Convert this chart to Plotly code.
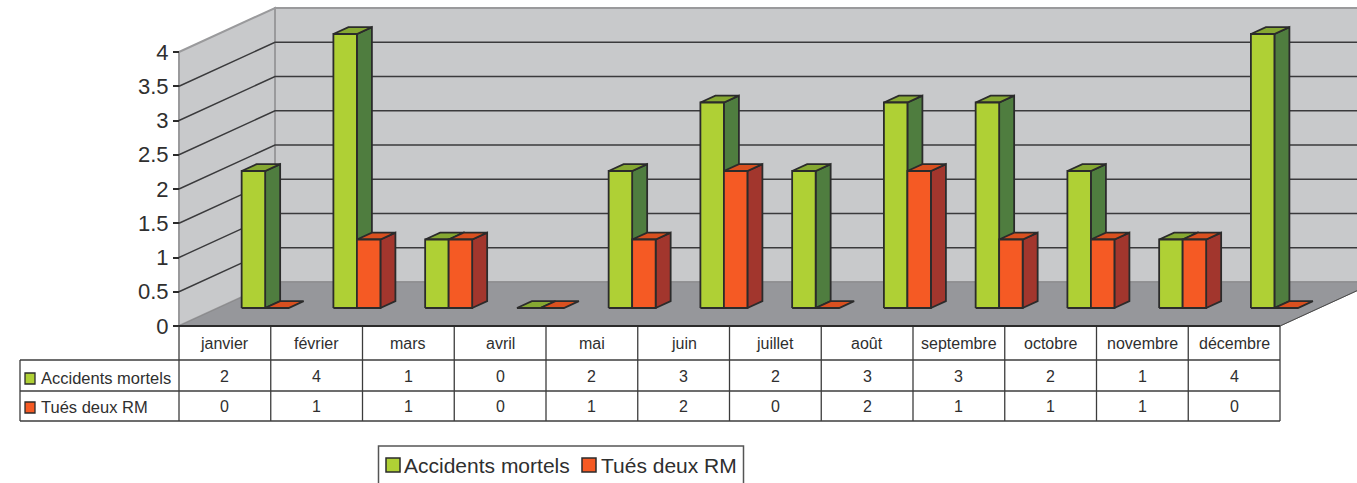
import plotly.graph_objects as go

months = ["janvier", "février", "mars", "avril", "mai", "juin", "juillet", "août",
          "septembre", "octobre", "novembre", "décembre"]
series_names = ["Accidents mortels", "Tués deux RM"]
accidents = [2, 4, 1, 0, 2, 3, 2, 3, 3, 2, 1, 4]
tues = [0, 1, 1, 0, 1, 2, 0, 2, 1, 1, 1, 0]
y_ticks = [0, 0.5, 1, 1.5, 2, 2.5, 3, 3.5, 4]
y_tick_labels = ["0", "0.5", "1", "1.5", "2", "2.5", "3", "3.5", "4"]

W, H = 1357, 483
X0, Y0 = 179, 326
UX = (1280 - 179) / 12
UY = (326 - 52) / 4
DX = 96 / UX
DY = 44 / UY
INK = "#2b2b2b"
TXT = "#2f2f2f"
FONT = "Liberation Sans, Arial, sans-serif"


def proj(x, v, d):
    return x + d * DX, v + d * DY


def py(px):
    return 1 - px / H


def poly_trace(polys, fill, line, width=1.8):
    xs, ys = [], []
    for p in polys:
        pts = [proj(*q) for q in p]
        pts.append(pts[0])
        xs += [a for a, _ in pts] + [None]
        ys += [b for _, b in pts] + [None]
    return go.Scatter(x=xs, y=ys, mode="lines", fill="toself", fillcolor=fill,
                      line=dict(color=line, width=width), hoverinfo="skip", showlegend=False)


fig = go.Figure()
n = len(months)
top = max(y_ticks)
wall = "#c8c9cb"
fig.add_trace(poly_trace([[(0, 0, 0), (0, 0, 1), (0, top, 1), (0, top, 0)]], wall, "#9a9a9c", 2))
fig.add_trace(poly_trace([[(0, 0, 1), (n, 0, 1), (n, top, 1), (0, top, 1)]], wall, "#9a9a9c", 2))
fig.add_trace(poly_trace([[(0, 0, 0), (n, 0, 0), (n, 0, 1), (0, 0, 1)]], "#96979b", "#8a8a8c", 1))

gx, gy = [], []
for t in y_ticks[1:-1]:
    pts = [proj(0, t, 0), proj(0, t, 1), proj(n, t, 1)]
    gx += [a for a, _ in pts] + [None]
    gy += [b for _, b in pts] + [None]
fig.add_trace(go.Scatter(x=gx, y=gy, mode="lines", line=dict(color="#3a3a3c", width=1.4),
                         hoverinfo="skip", showlegend=False))

BAR_W = 23.5 / UX
BAR_SHIFT = 1 / UX
D0 = 18 / 44
D1 = D0 + 15 / 96
palette = [("#afd035", "#4f7d3f", "#86a832"), ("#f55a24", "#a2362d", "#d9501f")]
for s, values in enumerate([accidents, tues]):
    front, side, topf = [], [], []
    for i, v in enumerate(values):
        a = i + 0.5 + (s - 1) * BAR_W + BAR_SHIFT
        b = a + BAR_W
        if v > 0:
            side.append([(b, 0, D0), (b, 0, D1), (b, v, D1), (b, v, D0)])
            front.append([(a, 0, D0), (b, 0, D0), (b, v, D0), (a, v, D0)])
        topf.append([(a, v, D0), (b, v, D0), (b, v, D1), (a, v, D1)])
    col = palette[s]
    fig.add_trace(poly_trace(side, col[1], INK))
    fig.add_trace(poly_trace(topf, col[2], INK))
    fig.add_trace(poly_trace(front, col[0], INK))

shapes = []
annotations = []
line_style = dict(color="#3c3c3c", width=1.3)
row_edges = [326, 360, 391, 421]
for i in range(n + 1):
    shapes.append(dict(type="line", xref="x", yref="paper", x0=i, x1=i,
                       y0=py(326), y1=py(421), line=line_style))
for ry in row_edges[1:]:
    shapes.append(dict(type="line", xref="paper", yref="paper", x0=20 / W, x1=1280 / W,
                       y0=py(ry), y1=py(ry), line=line_style))
shapes.append(dict(type="line", xref="paper", yref="paper", x0=20 / W, x1=20 / W,
                   y0=py(360), y1=py(421), line=line_style))
shapes.append(dict(type="line", xref="paper", yref="paper", x0=X0 / W, x1=1280 / W,
                   y0=py(326), y1=py(326), line=dict(color="#2b2b2b", width=2)))
ex0, ey0 = proj(n, 0, 0)
ex1, ey1 = proj(n, 0, 1)
shapes.append(dict(type="line", xref="x", yref="y", x0=ex0, y0=ey0, x1=ex1, y1=ey1,
                   line=dict(color="#4a4a4a", width=1)))

for i, m in enumerate(months):
    annotations.append(dict(x=i + 0.5, y=py(343), xref="x", yref="paper", text=m, showarrow=False,
                            xanchor="center", yanchor="middle", font=dict(size=16, family=FONT, color=TXT)))
for row_y, values in zip([376, 406], [accidents, tues]):
    for i, v in enumerate(values):
        annotations.append(dict(x=i + 0.5, y=py(row_y), xref="x", yref="paper", text=str(v), showarrow=False,
                                xanchor="center", yanchor="middle", font=dict(size=16, family=FONT, color=TXT)))
for row_y, name, col in zip([378, 407], series_names, palette):
    annotations.append(dict(x=39 / W, y=py(row_y), xref="paper", yref="paper", text=name, showarrow=False,
                            xanchor="left", yanchor="middle", font=dict(size=16.5, family=FONT, color=TXT)))
    shapes.append(dict(type="rect", xref="paper", yref="paper", x0=25 / W, x1=35 / W,
                       y0=py(row_y - 5), y1=py(row_y + 6), fillcolor=col[0],
                       line=dict(color=INK, width=1.3)))

# legend box, open at the bottom edge of the picture as in the reference
shapes.append(dict(type="rect", xref="paper", yref="paper", x0=378.5 / W, x1=743.5 / W,
                   y0=py(446), y1=py(495), fillcolor="white", line=dict(color="#555555", width=1.5)))
for left, text_x, name, col in zip([386, 582], [402, 599], series_names, palette):
    shapes.append(dict(type="rect", xref="paper", yref="paper", x0=left / W, x1=(left + 14) / W,
                       y0=py(458), y1=py(472), fillcolor=col[0], line=dict(color=INK, width=1.5)))
    annotations.append(dict(x=text_x / W, y=py(465), xref="paper", yref="paper", text=name, showarrow=False,
                            xanchor="left", yanchor="middle", font=dict(size=21, family=FONT, color=TXT)))

fig.update_layout(
    width=W, height=H, margin=dict(l=0, r=0, t=0, b=0),
    paper_bgcolor="white", plot_bgcolor="white", showlegend=False,
    xaxis=dict(range=[-X0 / UX, (W - X0) / UX], showgrid=False, zeroline=False,
               showticklabels=False, ticks="", showline=False, fixedrange=True),
    yaxis=dict(range=[(Y0 - H) / UY, Y0 / UY], showgrid=False, zeroline=False,
               anchor="free", position=X0 / W, tickmode="array", tickvals=y_ticks,
               ticktext=y_tick_labels, ticks="outside", ticklen=6, tickwidth=1.5, tickcolor=INK,
               showline=False, tickfont=dict(size=22, family=FONT, color=TXT), fixedrange=True),
    shapes=shapes, annotations=annotations,
)

fig.write_html("out.html", config={"displayModeBar": False},
               post_script="document.body.style.margin='0';document.body.style.overflow='hidden';window.scrollTo(0,0);")
